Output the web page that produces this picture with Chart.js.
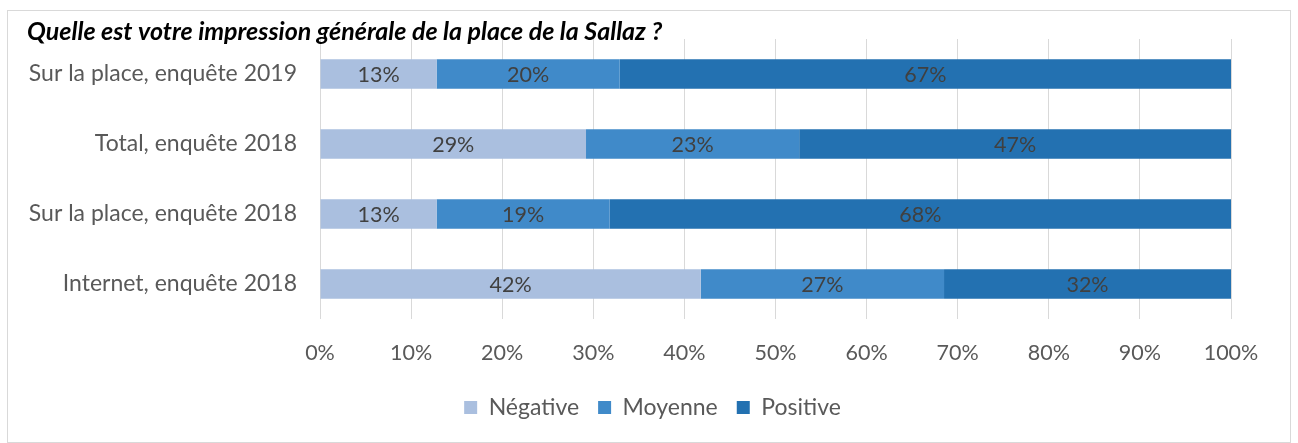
<!DOCTYPE html>
<html>
<head>
<meta charset="utf-8">
<script src="https://cdn.jsdelivr.net/npm/chart.js@4.4.1/dist/chart.umd.min.js"></script>
<style>
  html, body { margin: 0; padding: 0; background: #fff; }
  #wrap { position: relative; width: 1298px; height: 443px; }
  #frame {
    position: absolute; left: 7px; top: 10px; width: 1282px; height: 431px;
    border: 1px solid #d9d9d9; pointer-events: none;
  }
</style>
</head>
<body>
<div id="wrap">
  <div id="frame"></div>
  <canvas id="impressionChart" width="1298" height="443"></canvas>
</div>
<script>
const categories = [
    'Sur la place, enquête 2019',
    'Total, enquête 2018',
    'Sur la place, enquête 2018',
    'Internet, enquête 2018'
];
const negative = [12.8, 29.2, 12.8, 41.8];
const moyenne = [20.1, 23.4, 19.0, 26.7];
const positive = [67.1, 47.4, 68.2, 31.5];
const xTicks = [0, 10, 20, 30, 40, 50, 60, 70, 80, 90, 100];

const FONT = 'Lato, "Open Sans", sans-serif';
const TEXT_COLOR = '#404040';
const AXIS_COLOR = '#595959';

// draws the percentage in the middle of every bar segment
const segmentLabels = {
    id: 'segmentLabels',
    afterDatasetsDraw(chart) {
        const ctx = chart.ctx;
        ctx.save();
        ctx.font = '21.5px ' + FONT;
        ctx.fillStyle = TEXT_COLOR;
        ctx.textAlign = 'center';
        ctx.textBaseline = 'middle';
        chart.data.datasets.forEach((ds, di) => {
            const meta = chart.getDatasetMeta(di);
            meta.data.forEach((bar, i) => {
                const cx = (bar.x + bar.base) / 2;
                ctx.fillText(Math.round(ds.data[i]) + '%', cx, bar.y + 1);
            });
        });
        ctx.restore();
    }
};

const ctx = document.getElementById('impressionChart').getContext('2d');
new Chart(ctx, {
    type: 'bar',
    data: {
        labels: categories,
        datasets: [
            { label: 'Négative', data: negative, backgroundColor: '#aabfdf' },
            { label: 'Moyenne', data: moyenne, backgroundColor: '#408ac9' },
            { label: 'Positive', data: positive, backgroundColor: '#2371b1' }
        ]
    },
    options: {
        indexAxis: 'y',
        responsive: false,
        animation: false,
        categoryPercentage: 0.42,
        barPercentage: 1,
        layout: {
            padding: { left: 27, right: 20, top: 0, bottom: 14 }
        },
        scales: {
            x: {
                stacked: true,
                min: 0,
                max: 100,
                afterBuildTicks: (scale) => {
                    scale.ticks = xTicks.map(v => ({ value: v }));
                },
                afterFit: (scale) => { scale.height = 58; },
                grid: { color: '#d9d9d9', drawTicks: false },
                border: { display: false },
                ticks: {
                    padding: 21,
                    color: AXIS_COLOR,
                    font: { family: FONT, size: 21.5 },
                    callback: (v) => v + '%'
                }
            },
            y: {
                stacked: true,
                afterFit: (scale) => { scale.width = 293; },
                grid: { display: false, drawTicks: false },
                border: { display: false },
                ticks: {
                    padding: 23,
                    color: AXIS_COLOR,
                    font: { family: FONT, size: 23 }
                }
            },
            // empty spacer on the right so the plot ends at 100% like the original
            spacer: {
                type: 'linear',
                position: 'right',
                afterFit: (scale) => { scale.width = 47; },
                grid: { display: false, drawTicks: false },
                border: { display: false },
                ticks: { display: false }
            }
        },
        plugins: {
            title: {
                display: true,
                text: 'Quelle est votre impression générale de la place de la Sallaz ?',
                align: 'start',
                color: '#000000',
                font: { family: FONT, size: 25, weight: 'bold', style: 'italic', lineHeight: 0.56 },
                padding: { top: 25, bottom: 0 }
            },
            legend: {
                display: true,
                position: 'bottom',
                labels: {
                    boxWidth: 13,
                    boxHeight: 13,
                    padding: 19,
                    color: AXIS_COLOR,
                    font: { family: FONT, size: 23 }
                }
            },
            tooltip: { enabled: false }
        }
    },
    plugins: [segmentLabels]
});
</script>
</body>
</html>
